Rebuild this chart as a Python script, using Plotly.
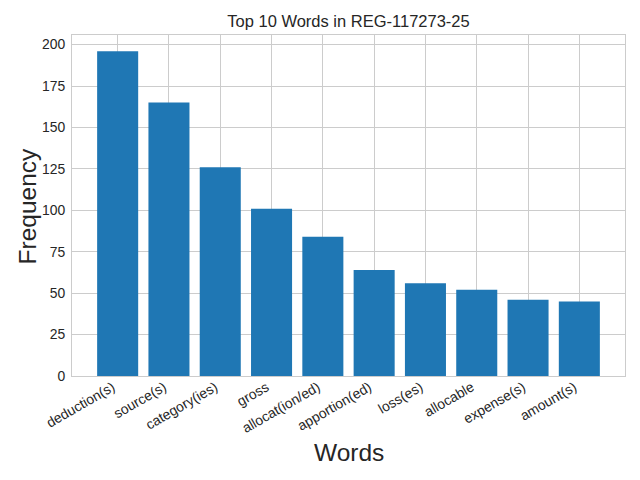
import plotly.graph_objects as go

words = ['deduction(s)', 'source(s)', 'category(ies)', 'gross', 'allocat(ion/ed)',
         'apportion(ed)', 'loss(es)', 'allocable', 'expense(s)', 'amount(s)']
counts = [196, 165, 126, 101, 84, 64, 56, 52, 46, 45]
y_ticks = [0, 25, 50, 75, 100, 125, 150, 175, 200]

text_color = '#262626'
grid_color = '#cccccc'

fig = go.Figure()
fig.add_trace(go.Bar(x=words, y=counts, marker=dict(color='#1f77b4', line=dict(width=0)),
                     showlegend=False))

# margins allow for the 8px body offset of the html page
fig.update_layout(
    width=640, height=480,
    margin=dict(l=64, r=23, t=27, b=112, autoexpand=False),
    plot_bgcolor='white', paper_bgcolor='white',
    font=dict(family='Liberation Sans, Arial, sans-serif', color=text_color, size=14),
    bargap=0.2,
    title=dict(text='Top 10 Words in REG-117273-25', x=0.5, xref='paper', xanchor='center',
               y=0.973, yanchor='middle', font=dict(size=16.5, color=text_color)),
)

# axis titles placed as annotations so the plot area stays fixed
fig.add_annotation(text='Frequency', xref='paper', yref='paper', x=-0.0796, y=0.5,
                   xanchor='center', yanchor='middle', textangle=-90, showarrow=False,
                   font=dict(size=24.5, color=text_color))
fig.add_annotation(text='Words', xref='paper', yref='paper', x=0.5, y=-0.223,
                   xanchor='center', yanchor='middle', showarrow=False,
                   font=dict(size=24.5, color=text_color))

fig.update_xaxes(
    range=[-0.89, 9.89], tickangle=-30, showgrid=True, gridcolor=grid_color,
    showline=True, linecolor=grid_color, mirror=True, linewidth=1, automargin=False,
    tickfont=dict(size=13.9), ticks='', ticklabelstandoff=-3, ticklabelshift=-5,
)
fig.update_yaxes(
    range=[0, max(counts) * 1.05], tickvals=y_ticks, showgrid=True, gridcolor=grid_color,
    showline=True, linecolor=grid_color, mirror=True, linewidth=1, zeroline=False,
    automargin=False, tickfont=dict(size=13.9), ticks='outside', ticklen=3, tickcolor='white',
)

fig.write_html("out.html")
